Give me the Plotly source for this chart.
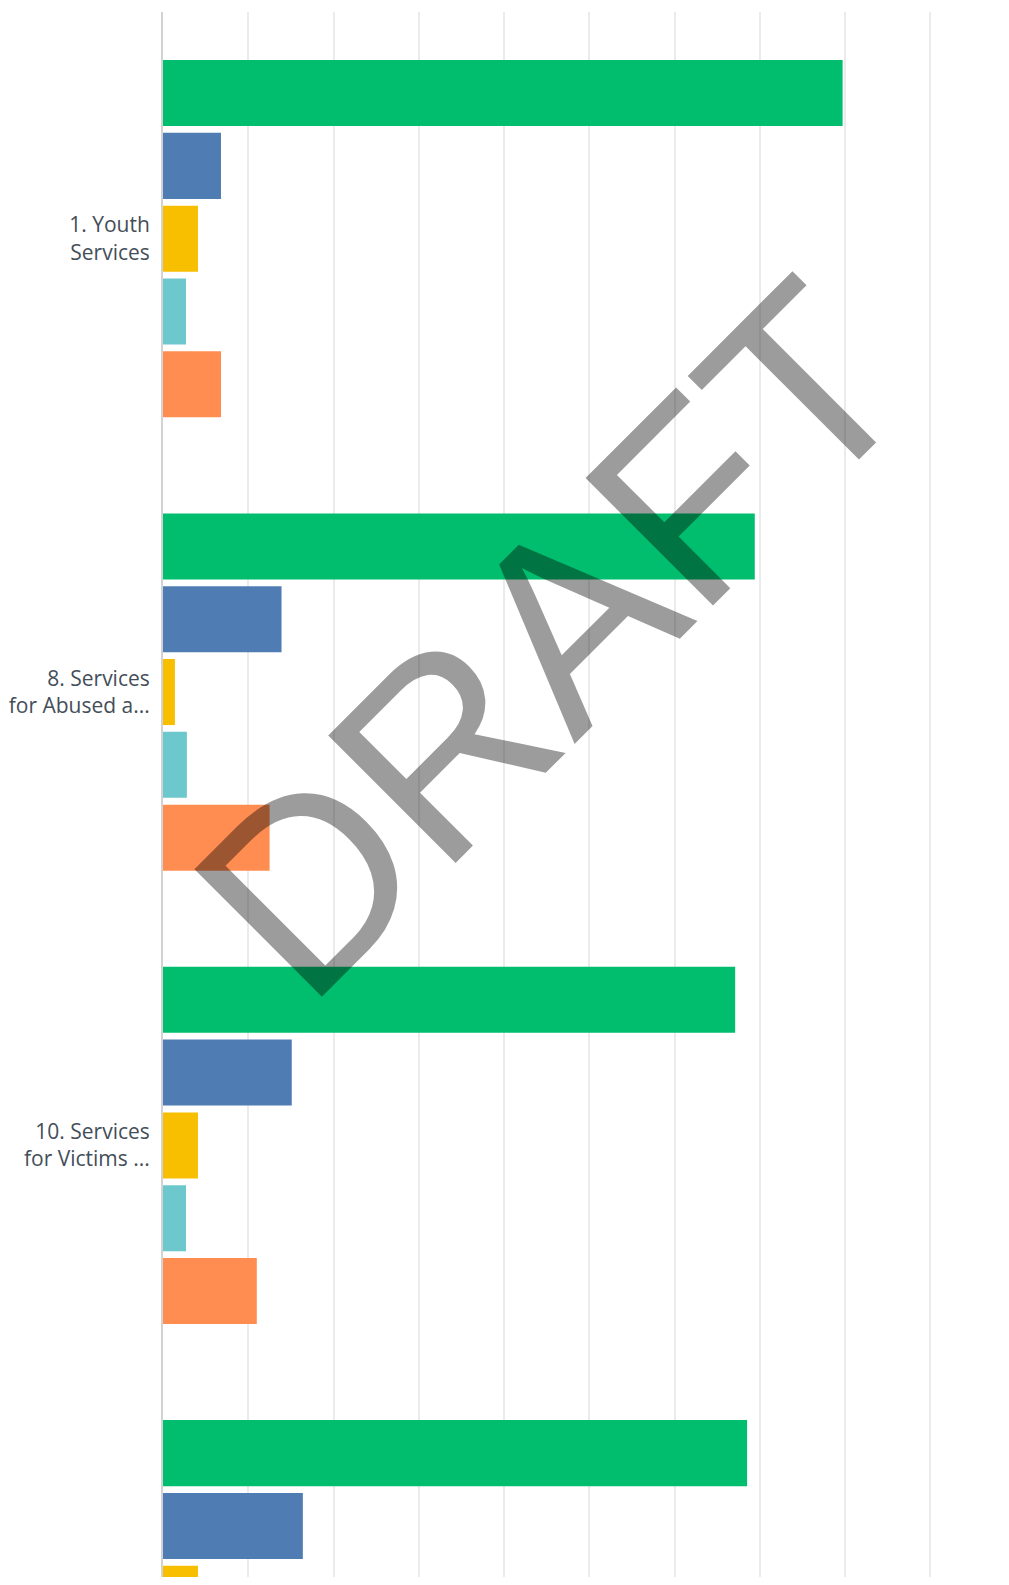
import plotly.graph_objects as go

# category labels (wrapped like the original)
categories = [
    "1. Youth<br>Services",
    "8. Services<br>for Abused a...",
    "10. Services<br>for Victims ...",
    "9. Services<br>for ...",
]

# percentage of answers per option
series_names = ["Option 1", "Option 2", "Option 3", "Option 4", "Option 5"]
green_vals = [79.7, 69.4, 67.1, 68.5]
blue_vals = [6.8, 13.9, 15.1, 16.4]
yellow_vals = [4.1, 1.4, 4.1, 4.1]
teal_vals = [2.7, 2.8, 2.7, 2.7]
orange_vals = [6.8, 12.5, 11.0, 8.2]

colors = ["#00BE6E", "#4F7CB3", "#F8BE00", "#6CC8CD", "#FF8C50"]

fig = go.Figure()

all_vals = [green_vals, blue_vals, yellow_vals, teal_vals, orange_vals]
for name, vals, col in zip(series_names, all_vals, colors):
    fig.add_trace(go.Bar(
        y=categories,
        x=vals,
        name=name,
        orientation="h",
        marker=dict(color=col, line=dict(width=0)),
    ))

# big diagonal watermark
fig.add_annotation(
    text="DRAFT",
    xref="paper", yref="paper",
    x=0.504, y=0.599,
    xanchor="center", yanchor="middle",
    textangle=-45,
    showarrow=False,
    font=dict(family="Liberation Sans, Arial, sans-serif", size=262,
              color="rgba(0,0,0,0.39)"),
)

fig.update_layout(
    width=1001,
    height=1569,
    barmode="group",
    bargap=0.197,
    bargroupgap=0.093,
    showlegend=False,
    plot_bgcolor="white",
    paper_bgcolor="white",
    margin=dict(l=155, r=76, t=4, b=0),
    xaxis=dict(
        range=[0, 90.3],
        dtick=10,
        showgrid=True,
        gridcolor="#ebebeb",
        gridwidth=2,
        zeroline=False,
        showticklabels=False,
        fixedrange=True,
    ),
    yaxis=dict(
        type="category",
        range=[2.952, -0.5],
        automargin=False,
        showgrid=False,
        showline=True,
        linecolor="#d2d2d2",
        linewidth=2,
        ticks="outside",
        ticklen=7,
        tickcolor="rgba(0,0,0,0)",
        tickfont=dict(family="Open Sans, sans-serif", size=21, color="#444e59"),
        fixedrange=True,
    ),
)

fig.write_html("out.html")
